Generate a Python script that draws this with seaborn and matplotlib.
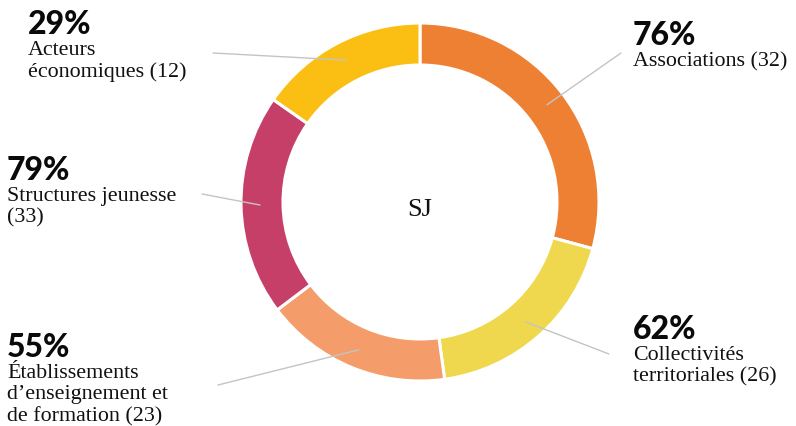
import numpy as np
import matplotlib
matplotlib.use("Agg")
import matplotlib.pyplot as plt
import seaborn as sns

# ---- data (clockwise from 12 o'clock) ----
categories = [
    "Associations ({n})",
    "Collectivités\nterritoriales ({n})",
    "Établissements\nd’enseignement et\nde formation ({n})",
    "Structures jeunesse\n({n})",
    "Acteurs\néconomiques ({n})",
]
counts = [32, 26, 23, 33, 12]
percents = [76, 62, 55, 79, 29]
slice_share = [29.2, 18.6, 16.9, 20.0, 15.3]   # slice sizes read from the ring
colors = ["#EE8034", "#EFD84E", "#F59D6A", "#C63F68", "#FBBF14"]
center_label = "SJ"

# ---- layout (image pixel coordinates, y down) ----
W, H = 796, 426
cx, cy_img, R, ring_w = 420, 202, 179, 42
label_pos = [(633, 45), (633, 339), (7, 357), (7, 180), (28, 34)]   # pct baseline
line_end = [(621, 53), (609, 354), (218, 385), (202, 194), (213, 53)]

sns.set_style("white")
fig = plt.figure(figsize=(W / 100, H / 100), dpi=100)
ax = fig.add_axes([0, 0, 1, 1])
ax.set_xlim(0, W)
ax.set_ylim(0, H)
ax.set_aspect("equal")
ax.axis("off")

def Y(y_img):
    return H - y_img

wedges, _ = ax.pie(
    slice_share, colors=colors, startangle=90, counterclock=False,
    radius=R, center=(cx, Y(cy_img)),
    wedgeprops=dict(width=ring_w, edgecolor="white", linewidth=2.2),
)
ax.set_xlim(0, W)
ax.set_ylim(0, H)

ax.text(cx, Y(cy_img + 8), center_label, ha="center", va="center",
        fontsize=19, family="Liberation Serif", color="#111111")

r_anchor = R - ring_w / 2 + 2
for w, lab, n, p, (lx, lyb), (ex, ey) in zip(wedges, categories, counts, percents,
                                              label_pos, line_end):
    mid = np.deg2rad((w.theta1 + w.theta2) / 2)
    ax_ = cx + r_anchor * np.cos(mid)
    ay_ = Y(cy_img) + r_anchor * np.sin(mid)
    ax.plot([ex, ax_], [Y(ey), ay_], color="#C4C4C4", lw=1.0, zorder=5)
    ax.text(lx, Y(lyb), f"{p}%", ha="left", va="baseline", fontsize=23,
            family="Lato", fontweight="black", color="#0A0A0A")
    for i, line in enumerate(lab.format(n=n).split("\n")):
        ax.text(lx, Y(lyb + 21 + 21.5 * i), line, ha="left", va="baseline",
                fontsize=15.8, family="Liberation Serif", color="#111111")

fig.savefig("out.png", dpi=100)
